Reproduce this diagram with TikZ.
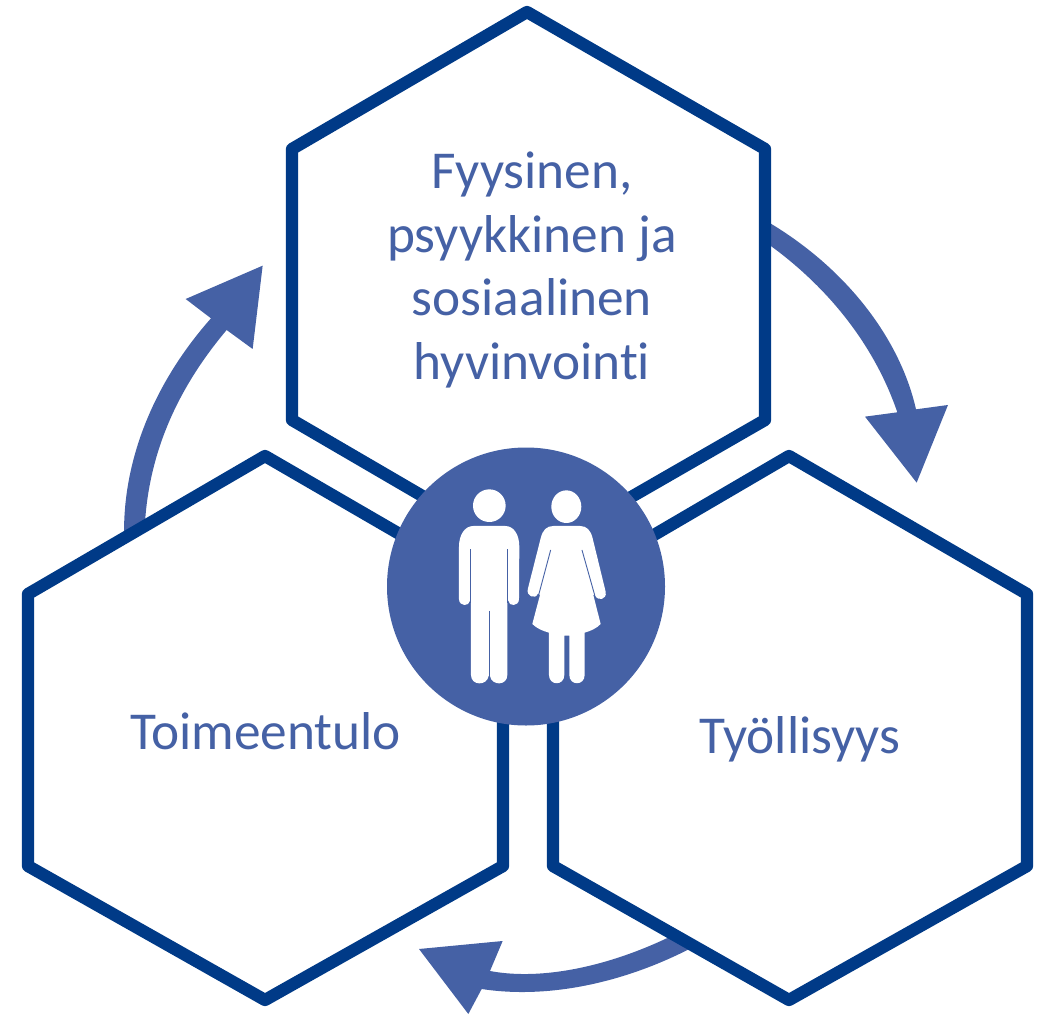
\documentclass[tikz,border=0pt]{standalone}
\usepackage{fontspec}
\setmainfont[RawFeature={-liga}]{Carlito}
\definecolor{hexblue}{HTML}{003A87}
\definecolor{softblue}{HTML}{4561A5}
\tikzset{
  hexa/.style={draw=hexblue,line width=12.3pt,line join=round,fill=white},
  flow/.style={fill=softblue,draw=none},
  hub/.style={circle,fill=softblue,draw=none,minimum size=278pt,inner sep=0pt},
  label/.style={text=softblue,font=\fontsize{53.3}{63.5}\selectfont,align=center,inner sep=0pt},
  figure/.style={fill=white,draw=none},
  slit/.style={draw=softblue,line width=0.9pt}
}
\begin{document}
\begin{tikzpicture}[x=1pt,y=-1pt]
\useasboundingbox (0,0) rectangle (1046,1014);
% curved arrows (behind the hexagons)
\begin{scope}[shift={(750,210)},x=0.3333pt,y=-0.3333pt]
\path[flow] (30,22) .. controls (285,165) and (450,385) .. (498,598)
  -- (594,585) -- (500,818) -- (345,620) -- (442,607)
  .. controls (375,410) and (235,225) .. (30,85) -- cycle;
\end{scope}
\begin{scope}[shift={(100,250)},x=0.3333pt,y=-0.3333pt]
\path[flow] (73,880) .. controls (62,640) and (160,400) .. (333,205)
  -- (257,147) -- (488,47) -- (458,297) -- (380,240)
  .. controls (220,430) and (133,640) .. (133,880) -- cycle;
\end{scope}
\begin{scope}[shift={(400,920)},x=0.3333pt,y=-0.3333pt]
\path[flow] (850,30) .. controls (660,130) and (440,185) .. (270,153)
  -- (308,63) -- (57,87) -- (205,282) -- (245,207)
  .. controls (460,240) and (700,180) .. (900,70) -- cycle;
\end{scope}
% hexagons
\draw[hexa] (527,12) -- (765,149) -- (765,420) -- (527,557) -- (292,420) -- (292,149) -- cycle;
\draw[hexa] (265,456) -- (503,594) -- (503,866) -- (265,1000) -- (28,866) -- (28,594) -- cycle;
\draw[hexa] (789,456) -- (1027,594) -- (1027,866) -- (789,1000) -- (553,866) -- (553,594) -- cycle;
% labels
\node[label] (wellbeing) at (532,270) {Fyysinen,\\psyykkinen ja\\sosiaalinen\\hyvinvointi};
\node[label] (income) at (265.5,731) {Toimeentulo};
\node[label] (work) at (800,739) {Työllisyys};
% hub
\node[hub] (centre) at (526,586.5) {};
% figures
\begin{scope}[shift={(380,440)},x=0.3333pt,y=-0.3333pt]
\fill[figure] (328,197) circle [x radius=49,y radius=49];
\path[figure] (280,258) -- (376,258) .. controls (402,258) and (418,285) .. (418,320)
  -- (417,478) .. controls (416,500) and (386,500) .. (385,482)
  -- (382,482) -- (382,705) .. controls (382,738) and (335,738) .. (330,708)
  -- (326,708) .. controls (321,738) and (273,738) .. (273,705)
  -- (273,482) -- (270,482) .. controls (268,500) and (238,500) .. (237,478)
  -- (237,320) .. controls (237,285) and (254,258) .. (280,258) -- cycle;
\draw[slit] (271,328) -- (271,490);
\draw[slit] (383,328) -- (383,490);
\draw[slit] (328,513) -- (328,712);
\fill[figure] (559,200) circle [x radius=45,y radius=49];
\path[figure] (520,258) -- (600,258) .. controls (620,258) and (632,270) .. (638,295)
  -- (677,455) .. controls (682,480) and (652,485) .. (645,465)
  -- (640,465) -- (662,552) .. controls (650,565) and (632,573) .. (614,578)
  -- (614,705) .. controls (614,738) and (568,738) .. (568,705)
  -- (568,587) -- (553,587) -- (553,705) .. controls (553,738) and (507,738) .. (507,705)
  -- (507,578) .. controls (488,573) and (470,565) .. (457,552)
  -- (480,465) -- (474,460) .. controls (468,480) and (436,470) .. (444,445)
  -- (482,295) .. controls (488,270) and (500,258) .. (520,258) -- cycle;
\draw[slit] (512,330) -- (476,465);
\draw[slit] (606,330) -- (644,465);
\end{scope}
\end{tikzpicture}
\end{document}
